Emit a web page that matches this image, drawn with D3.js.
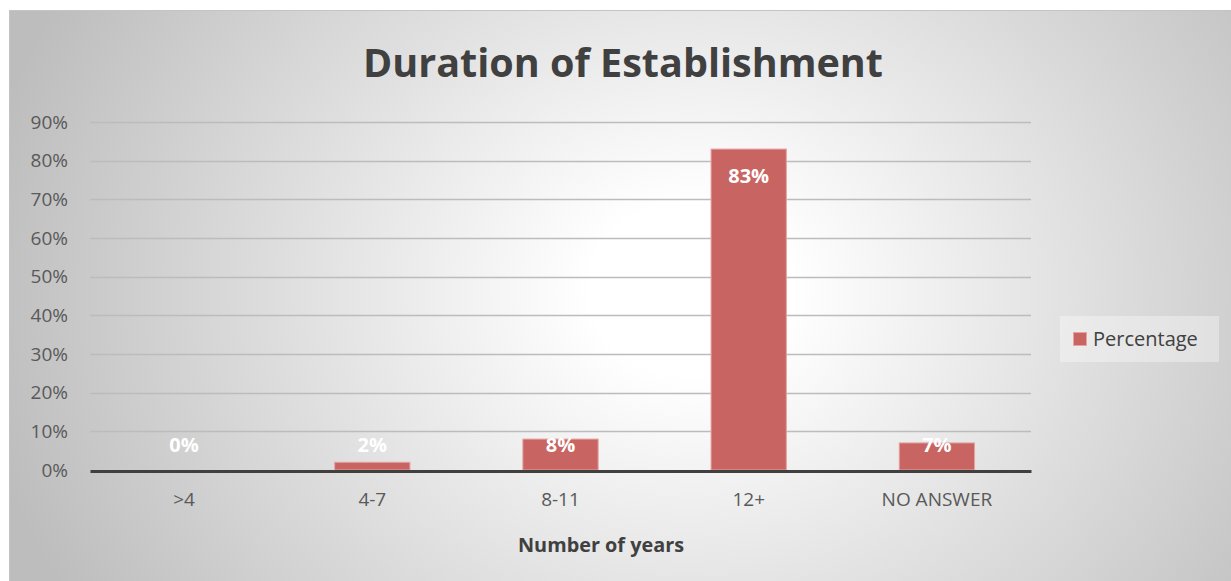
<!DOCTYPE html>
<html><head><meta charset="utf-8">
<script src="https://cdn.jsdelivr.net/npm/d3@7"></script>
<style>body{margin:0;background:#fff}svg{display:block}text{font-family:"Open Sans",sans-serif}</style>
</head><body>
<svg id="c" width="1231" height="581"></svg>
<script>
const categories = [">4", "4-7", "8-11", "12+", "NO ANSWER"];
const values = [0, 2, 8, 83, 7];
const yTicks = [0, 10, 20, 30, 40, 50, 60, 70, 80, 90];
const seriesName = "Percentage";
const title = "Duration of Establishment";
const xTitle = "Number of years";

const svg = d3.select("#c");
const defs = svg.append("defs");
const rg = defs.append("radialGradient").attr("id","bg").attr("gradientUnits","userSpaceOnUse")
  .attr("cx",690).attr("cy",290).attr("r",720)
  .attr("gradientTransform","translate(690,290) scale(1,0.85) translate(-690,-290)");
rg.append("stop").attr("offset","0").attr("stop-color","#ffffff");
rg.append("stop").attr("offset","0.14").attr("stop-color","#ffffff");
rg.append("stop").attr("offset","1").attr("stop-color","#bdbdbd");

svg.append("rect").attr("x",9.5).attr("y",10.5).attr("width",1240).attr("height",600)
  .attr("fill","url(#bg)").attr("stroke","#c4c4c4").attr("stroke-width",1);

const m = {left:90, right:1031, top:122, bottom:470};
const x = d3.scaleBand().domain(categories).range([m.left, m.right]).paddingInner(0.6).paddingOuter(0.3);
const y = d3.scaleLinear().domain([0, 90]).range([m.bottom, m.top]);

// gridlines
svg.append("g").selectAll("line").data(yTicks.filter(d=>d>0)).join("line")
  .attr("x1",m.left).attr("x2",m.right)
  .attr("y1",d=>Math.round(y(d))+0.5).attr("y2",d=>Math.round(y(d))+0.5)
  .attr("stroke","#bcbcbc").attr("stroke-width",1.3);

// y axis labels
const yAxis = d3.axisLeft(y).tickValues(yTicks).tickFormat(d=>d+"%").tickSize(0).tickPadding(0);
const ya = svg.append("g").attr("transform","translate(68,0)").call(yAxis);
ya.select(".domain").remove();
ya.selectAll("text").attr("font-size",19).attr("fill","#595959").attr("font-family","Open Sans");

// bars
svg.append("g").selectAll("rect").data(values).join("rect")
  .attr("x",(d,i)=>x(categories[i])).attr("width",x.bandwidth())
  .attr("y",d=>y(d)).attr("height",d=>y(0)-y(d))
  .attr("fill","#c86563").attr("stroke","#e6a3a1").attr("stroke-width",1);

// axis line
const xAxis = d3.axisBottom(x).tickSize(0).tickPadding(22);
const xa = svg.append("g").attr("transform",`translate(0,${m.bottom+1})`).call(xAxis);
xa.select(".domain").attr("stroke","#404040").attr("stroke-width",3);
xa.selectAll("text").attr("font-size",19).attr("fill","#595959").attr("font-family","Open Sans");

// data labels
svg.append("g").selectAll("text").data(values).join("text")
  .attr("x",(d,i)=>x(categories[i])+x.bandwidth()/2)
  .attr("y",d=> (y(0)-y(d) > 50 ? y(d)+27 : y(0)-25))
  .attr("dy","0.35em").attr("text-anchor","middle")
  .attr("font-size",20).attr("font-weight","bold").attr("fill","#ffffff")
  .text(d=>d+"%");

// title
svg.append("text").attr("x",623).attr("y",77).attr("text-anchor","middle")
  .attr("font-size",40).attr("font-weight","bold").attr("fill","#404040")
  .attr("textLength",520).attr("lengthAdjust","spacingAndGlyphs").text(title);

// x title
svg.append("text").attr("x",601).attr("y",552).attr("text-anchor","middle")
  .attr("font-size",19).attr("font-weight","bold").attr("fill","#404040")
  .attr("textLength",166).attr("lengthAdjust","spacingAndGlyphs").text(xTitle);

// legend
const lg = svg.append("g");
lg.append("rect").attr("x",1060).attr("y",316).attr("width",159).attr("height",46)
  .attr("fill","#ffffff").attr("fill-opacity",0.35);
lg.append("rect").attr("x",1073.5).attr("y",332.5).attr("width",13).attr("height",13)
  .attr("fill","#c86563").attr("stroke","#e6a3a1");
lg.append("text").attr("x",1093).attr("y",339).attr("dy","0.35em")
  .attr("font-size",20).attr("fill","#404040").text(seriesName);
</script>
</body></html>
